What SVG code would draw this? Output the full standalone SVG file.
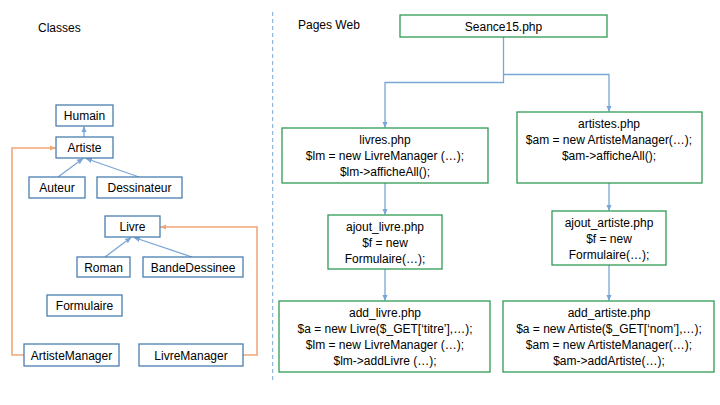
<svg xmlns="http://www.w3.org/2000/svg" width="720" height="405" viewBox="0 0 720 405">
<style>
text{font-family:"Liberation Sans",Arial,sans-serif;font-size:12px;fill:#000;text-anchor:middle}
.t{text-anchor:start}
.cls{fill:#fff;stroke:#4a7fb0;stroke-width:1.3}
.pg{fill:#fff;stroke:#2f9a55;stroke-width:1.3}
.bl{fill:none;stroke:#7aa6d6;stroke-width:1.3}
.or{fill:none;stroke:#f0a878;stroke-width:1.6}
</style>
<defs>
<marker id="ab" viewBox="0 0 6 6" refX="5.5" refY="3" markerWidth="5" markerHeight="5" orient="auto"><path d="M0,0.5 L6,3 L0,5.5 z" fill="#7aa6d6"/></marker>
<marker id="ao" viewBox="0 0 6 6" refX="5.5" refY="3" markerWidth="4" markerHeight="4" orient="auto"><path d="M0,0.5 L6,3 L0,5.5 z" fill="#f0a878"/></marker>
</defs>
<rect width="720" height="405" fill="#fff"/>
<text class="t" x="38" y="32">Classes</text>
<text class="t" x="298" y="29">Pages Web</text>
<line x1="272.7" y1="12" x2="272.7" y2="382" stroke="#7aa6d6" stroke-width="1" stroke-dasharray="4,3"/>
<g id="connectors">
<line class="bl" x1="84" y1="137" x2="84" y2="126.5" marker-end="url(#ab)"/>
<line class="bl" x1="58" y1="177" x2="83" y2="158.5" marker-end="url(#ab)"/>
<line class="bl" x1="139" y1="177" x2="86" y2="158.5" marker-end="url(#ab)"/>
<line class="bl" x1="105" y1="257" x2="131" y2="237.5" marker-end="url(#ab)"/>
<line class="bl" x1="192" y1="257" x2="134" y2="237.5" marker-end="url(#ab)"/>
<polyline class="or" points="24,355 12,355 12,148 55.5,148" marker-end="url(#ao)"/>
<polyline class="or" points="243,355 257,355 257,227 160.5,227" marker-end="url(#ao)"/>
<polyline class="bl" points="503.5,37 503.5,82.5 385,82.5 385,127.5" marker-end="url(#ab)"/>
<polyline class="bl" points="503.5,74.5 609,74.5 609,111.5" marker-end="url(#ab)"/>
<line class="bl" x1="385" y1="183" x2="385" y2="214.5" marker-end="url(#ab)"/>
<line class="bl" x1="609" y1="183" x2="609" y2="210.5" marker-end="url(#ab)"/>
<line class="bl" x1="385" y1="269" x2="385" y2="300.5" marker-end="url(#ab)"/>
<line class="bl" x1="609" y1="265" x2="609" y2="300.5" marker-end="url(#ab)"/>
</g>
<g id="humain"><rect class="cls" x="56" y="105" width="57" height="21"/><text x="84.5" y="120">Humain</text></g>
<g id="artiste"><rect class="cls" x="56" y="137" width="57" height="21"/><text x="84.5" y="152">Artiste</text></g>
<g id="auteur"><rect class="cls" x="29" y="177" width="56" height="21"/><text x="57" y="192">Auteur</text></g>
<g id="dessinateur"><rect class="cls" x="97" y="177" width="85" height="21"/><text x="139.5" y="192">Dessinateur</text></g>
<g id="livre"><rect class="cls" x="105" y="216" width="55" height="21"/><text x="132.5" y="231">Livre</text></g>
<g id="roman"><rect class="cls" x="77" y="257" width="53" height="20"/><text x="103.5" y="271.5">Roman</text></g>
<g id="bandedessinee"><rect class="cls" x="143" y="257" width="100" height="20"/><text x="193" y="271.5">BandeDessinee</text></g>
<g id="formulaire"><rect class="cls" x="47" y="295" width="75" height="21"/><text x="84.5" y="310">Formulaire</text></g>
<g id="artistemanager"><rect class="cls" x="24" y="344" width="95" height="22"/><text x="71.5" y="359.5">ArtisteManager</text></g>
<g id="livremanager"><rect class="cls" x="139" y="344" width="104" height="22"/><text x="191" y="359.5">LivreManager</text></g>
<g id="seance15"><rect class="pg" x="400" y="15" width="207" height="22"/><text x="503.5" y="30.5">Seance15.php</text></g>
<g id="livres"><rect class="pg" x="282" y="128" width="206" height="55"/><text x="385" y="144">livres.php</text><text x="385" y="160">$lm = new LivreManager (…);</text><text x="385" y="176">$lm-&gt;afficheAll();</text></g>
<g id="artistes"><rect class="pg" x="517" y="112" width="185" height="71"/><text x="609" y="128">artistes.php</text><text x="609" y="144">$am = new ArtisteManager(…);</text><text x="609" y="160">$am-&gt;afficheAll();</text></g>
<g id="ajout_livre"><rect class="pg" x="328" y="215" width="114" height="54"/><text x="385" y="231">ajout_livre.php</text><text x="385" y="247">$f = new</text><text x="385" y="263">Formulaire(…);</text></g>
<g id="ajout_artiste"><rect class="pg" x="552" y="211" width="114" height="54"/><text x="609" y="227">ajout_artiste.php</text><text x="609" y="243">$f = new</text><text x="609" y="259">Formulaire(…);</text></g>
<g id="add_livre"><rect class="pg" x="279" y="301" width="211" height="71"/><text x="385" y="317">add_livre.php</text><text x="385" y="333">$a = new Livre($_GET[‘titre’],…);</text><text x="385" y="349">$lm = new LivreManager (…);</text><text x="385" y="365">$lm-&gt;addLivre (…);</text></g>
<g id="add_artiste"><rect class="pg" x="503" y="301" width="211" height="71"/><text x="609" y="317">add_artiste.php</text><text x="609" y="333">$a = new Artiste($_GET[‘nom’],…);</text><text x="609" y="349">$am = new ArtisteManager(…);</text><text x="609" y="365">$am-&gt;addArtiste(…);</text></g>
</svg>
